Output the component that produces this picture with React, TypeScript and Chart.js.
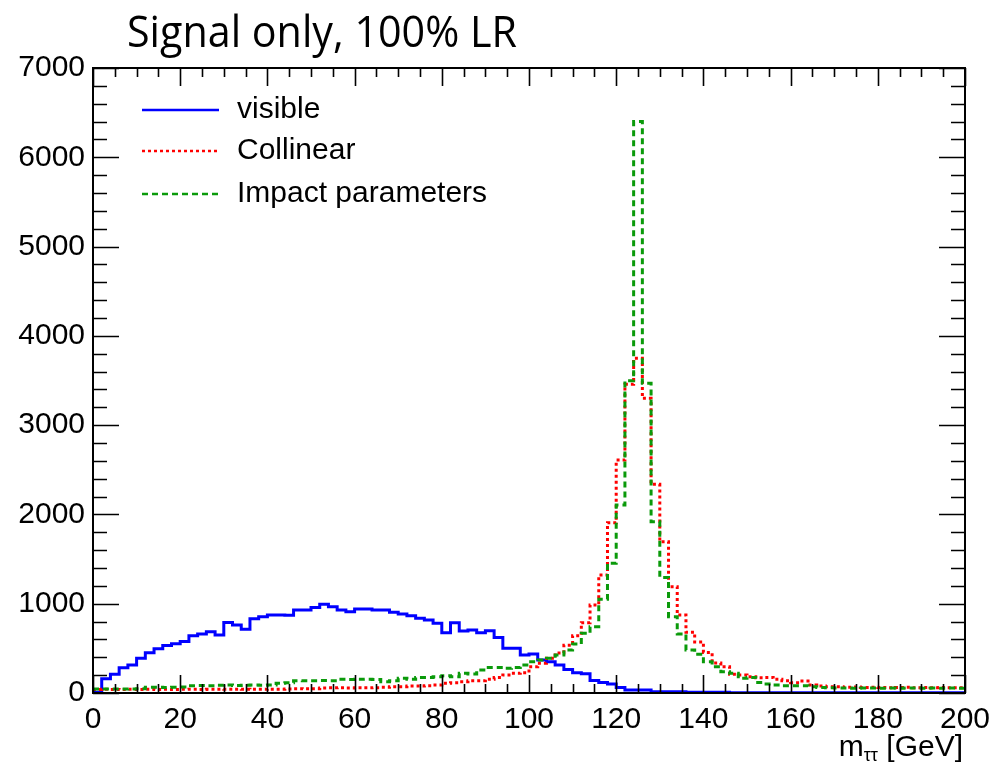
import React, { useEffect, useRef } from "react";
import { Chart, registerables } from "chart.js";

Chart.register(...registerables);

// ---------- data ----------
const TITLE = "Signal only, 100% LR";
const X_TITLE_MAIN = "m";
const X_TITLE_SUB = "ττ";
const X_TITLE_UNIT = " [GeV]";

const X_MIN = 0;
const X_MAX = 200;
const BIN_WIDTH = 2;
const X_TICK_STEP = 20;
const X_MINOR_STEP = 5;
const Y_MIN = 0;
const Y_MAX = 7000;
const Y_TICK_STEP = 1000;
const Y_MINOR_STEP = 200;

const SERIES_LABELS = ["visible", "Collinear", "Impact parameters"];

// bins of 2 GeV, 0..200
const visible = [
  8, 160, 211, 284, 314, 388, 452, 496, 532, 552,
  578, 640, 661, 687, 650, 789, 762, 713, 832, 855,
  874, 873, 872, 930, 930, 959, 993, 967, 930, 911,
  941, 941, 930, 930, 904, 885, 866, 836, 818, 780,
  676, 788, 694, 706, 676, 698, 623, 500, 500, 425,
  437, 370, 351, 314, 262, 228, 215, 140, 118, 100,
  62, 35, 35, 35, 15, 15, 15, 15, 8, 8,
  8, 8, 8, 3, 3, 3, 3, 3, 3, 3,
  3, 3, 3, 3, 3, 3, 3, 3, 3, 3,
  3, 3, 3, 3, 3, 3, 3, 3, 3, 3,
];

const collinear = [
  40, 41, 40, 39, 41, 40, 42, 40, 41, 40,
  41, 42, 40, 41, 42, 41, 43, 42, 41, 42,
  43, 42, 44, 48, 47, 49, 57, 58, 59, 57,
  60, 58, 60, 64, 71, 71, 78, 78, 82, 90,
  108, 116, 127, 138, 138, 153, 175, 202, 220, 228,
  295, 332, 388, 448, 535, 642, 788, 986, 1322, 1907,
  2609, 3457, 3748, 3300, 2337, 1695, 1191, 874, 680, 570,
  455, 335, 295, 209, 202, 183, 172, 175, 153, 138,
  116, 134, 90, 78, 71, 71, 64, 66, 62, 64,
  62, 60, 62, 64, 60, 62, 60, 62, 60, 60,
];

const impact = [
  45, 46, 44, 45, 46, 47, 64, 64, 62, 64,
  66, 82, 84, 80, 86, 90, 84, 88, 90, 86,
  90, 110, 115, 138, 136, 138, 140, 138, 153, 150,
  153, 155, 152, 127, 138, 164, 153, 175, 175, 183,
  194, 183, 220, 213, 258, 287, 287, 276, 287, 314,
  350, 370, 389, 425, 481, 549, 668, 743, 1049, 1452,
  2105, 3498, 6400, 3468, 1919, 1295, 855, 661, 481, 433,
  351, 295, 239, 220, 164, 175, 119, 101, 90, 82,
  82, 82, 71, 63, 58, 55, 56, 54, 55, 56,
  54, 55, 54, 55, 56, 54, 55, 54, 55, 54,
];

const SERIES = [visible, collinear, impact];
const COLORS = ["#0000ff", "#ff0000", "#0a9a0a"];
const DASHES: number[][] = [[], [3, 3], [6, 4]];

// ---------- helpers ----------
function toSteps(values: number[]) {
  const pts = values.map((v, i) => ({ x: X_MIN + i * BIN_WIDTH, y: v }));
  pts.push({ x: X_MIN + values.length * BIN_WIDTH, y: values[values.length - 1] });
  return pts;
}

const FONT = "'Liberation Sans', Arial, Helvetica, sans-serif";

const rootFramePlugin = {
  id: "rootFrame",
  afterDatasetsDraw(chart: any) {
    const { ctx, chartArea: a, scales } = chart;
    const xs = scales.x;
    const ys = scales.y;
    ctx.save();
    ctx.strokeStyle = "#000";
    ctx.lineWidth = 2;
    ctx.strokeRect(a.left, a.top, a.right - a.left, a.bottom - a.top);
    ctx.lineWidth = 1.6;
    ctx.beginPath();
    for (let v = X_MIN; v <= X_MAX + 1e-9; v += X_MINOR_STEP) {
      const px = Math.round(xs.getPixelForValue(v)) + 0.5;
      const len = v % X_TICK_STEP === 0 ? 18 : 9;
      ctx.moveTo(px, a.bottom);
      ctx.lineTo(px, a.bottom - len);
      ctx.moveTo(px, a.top);
      ctx.lineTo(px, a.top + len);
    }
    for (let v = Y_MIN; v <= Y_MAX + 1e-9; v += Y_MINOR_STEP) {
      const py = Math.round(ys.getPixelForValue(v)) + 0.5;
      const len = v % Y_TICK_STEP === 0 ? 26 : 14;
      ctx.moveTo(a.left, py);
      ctx.lineTo(a.left + len, py);
      ctx.moveTo(a.right, py);
      ctx.lineTo(a.right - len, py);
    }
    ctx.stroke();

    // legend
    const rows = [110, 151, 194];
    chart.data.datasets.forEach((ds: any, i: number) => {
      const y = rows[i];
      ctx.beginPath();
      ctx.strokeStyle = ds.borderColor;
      ctx.lineWidth = 2.5;
      ctx.setLineDash(ds.borderDash || []);
      ctx.moveTo(142, y);
      ctx.lineTo(219, y);
      ctx.stroke();
      ctx.setLineDash([]);
      ctx.fillStyle = "#000";
      ctx.font = `30px ${FONT}`;
      ctx.textBaseline = "middle";
      ctx.textAlign = "left";
      ctx.fillText(ds.label, 237, y);
    });

    // x axis title (right aligned)
    ctx.fillStyle = "#000";
    ctx.textBaseline = "alphabetic";
    ctx.textAlign = "left";
    const mainFont = `30px ${FONT}`;
    const subFont = `18px ${FONT}`;
    ctx.font = mainFont;
    const wM = ctx.measureText(X_TITLE_MAIN).width;
    const wU = ctx.measureText(X_TITLE_UNIT).width;
    ctx.font = subFont;
    const wS = ctx.measureText(X_TITLE_SUB).width;
    const right = a.right - 2;
    const base = 756;
    const x0 = right - (wM + wS + wU);
    ctx.font = mainFont;
    ctx.fillText(X_TITLE_MAIN, x0, base);
    ctx.font = subFont;
    ctx.fillText(X_TITLE_SUB, x0 + wM, base + 5);
    ctx.font = mainFont;
    ctx.fillText(X_TITLE_UNIT, x0 + wM + wS, base);

    // title
    ctx.font = `44px 'Open Sans', 'Noto Sans', sans-serif`;
    const tw = ctx.measureText(TITLE).width;
    const sx = 390 / tw;
    ctx.translate(127, 47);
    ctx.scale(sx, 1);
    ctx.fillText(TITLE, 0, 0);
    ctx.restore();
  },
};

export default function App() {
  const ref = useRef<HTMLCanvasElement | null>(null);

  useEffect(() => {
    document.body.style.margin = "0";
    if (!ref.current) return;
    const chart = new Chart(ref.current, {
      type: "line",
      data: {
        datasets: SERIES.map((vals, i) => ({
          label: SERIES_LABELS[i],
          data: toSteps(vals),
          borderColor: COLORS[i],
          backgroundColor: COLORS[i],
          borderWidth: 3,
          borderDash: DASHES[i],
          stepped: true,
          pointRadius: 0,
          fill: false,
          order: 3 - i,
        })),
      },
      options: {
        responsive: false,
        animation: false,
        devicePixelRatio: 1,
        layout: { padding: { top: 68, right: 29, left: 0, bottom: 0 } },
        plugins: {
          legend: { display: false },
          tooltip: { enabled: false },
          title: { display: false },
        },
        scales: {
          x: {
            type: "linear",
            min: X_MIN,
            max: X_MAX,
            border: { display: false },
            grid: { display: false, drawTicks: false },
            ticks: {
              stepSize: X_TICK_STEP,
              padding: 9,
              color: "#000",
              font: { family: FONT, size: 30 },
              maxRotation: 0,
              autoSkip: false,
              callback: (v: any) => String(v),
            },
            afterFit(scale: any) {
              scale.height = 74;
              scale.paddingLeft = 0;
              scale.paddingRight = 0;
            },
          },
          y: {
            type: "linear",
            min: Y_MIN,
            max: Y_MAX,
            border: { display: false },
            grid: { display: false, drawTicks: false },
            ticks: {
              stepSize: Y_TICK_STEP,
              padding: 8,
              color: "#000",
              font: { family: FONT, size: 30 },
              autoSkip: false,
              callback: (v: any) => String(v),
            },
            afterFit(scale: any) {
              scale.width = 93;
              scale.paddingTop = 0;
              scale.paddingBottom = 0;
            },
          },
        },
      },
      plugins: [rootFramePlugin],
    });
    return () => chart.destroy();
  }, []);

  return (
    <div style={{ position: "absolute", left: 0, top: 0, width: 994, height: 767, background: "#fff" }}>
      <canvas ref={ref} width={994} height={767} style={{ width: 994, height: 767 }} />
    </div>
  );
}
